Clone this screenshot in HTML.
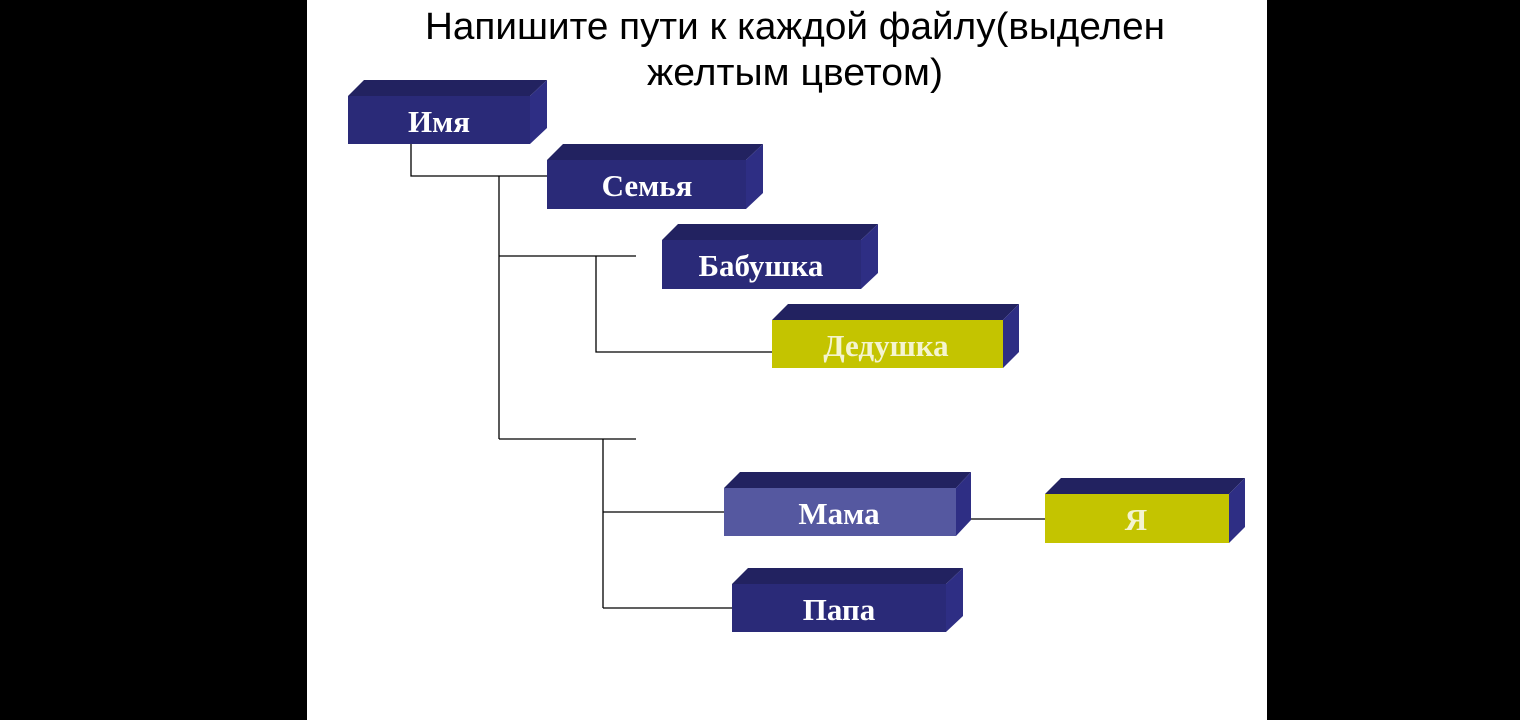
<!DOCTYPE html>
<html><head><meta charset="utf-8"><style>html,body{margin:0;padding:0;background:#000}svg{display:block}</style></head>
<body>
<svg width="1520" height="720" xmlns="http://www.w3.org/2000/svg">
<rect x="0" y="0" width="1520" height="720" fill="#000"/>
<rect x="307" y="0" width="960" height="720" fill="#fff"/>
<g font-family="Liberation Sans, Arial, sans-serif" font-size="38" fill="#000" text-anchor="middle">
<text x="795" y="39" textLength="740" lengthAdjust="spacingAndGlyphs">Напишите пути к каждой файлу(выделен</text>
<text x="795" y="85" textLength="296" lengthAdjust="spacingAndGlyphs">желтым цветом)</text>
</g>
<g stroke="#000" stroke-width="1.3" fill="none">
<path d="M411 144V176H547"/>
<path d="M499 176V439"/>
<path d="M499 256H636"/>
<path d="M596 256V352H772"/>
<path d="M499 439H636"/>
<path d="M603 439V608"/>
<path d="M603 512H724"/>
<path d="M603 608H732"/>
<path d="M956 519H1045"/>
</g>
<g font-family="Liberation Serif, Times New Roman, serif" font-weight="bold" font-size="31" text-anchor="middle">
<polygon points="348,96 364,80 547,80 530,96" fill="#222260"/>
<polygon points="530,96 547,80 547,128 530,144" fill="#2e2e84"/>
<rect x="348" y="96" width="182" height="48" fill="#2a2a78"/>
<text x="439" y="132" fill="#fff">Имя</text>
<polygon points="547,160 563,144 763,144 746,160" fill="#222260"/>
<polygon points="746,160 763,144 763,193 746,209" fill="#2e2e84"/>
<rect x="547" y="160" width="199" height="49" fill="#2a2a78"/>
<text x="647" y="196" fill="#fff">Семья</text>
<polygon points="662,240 678,224 878,224 861,240" fill="#222260"/>
<polygon points="861,240 878,224 878,273 861,289" fill="#2e2e84"/>
<rect x="662" y="240" width="199" height="49" fill="#2a2a78"/>
<text x="761" y="276" fill="#fff">Бабушка</text>
<polygon points="772,320 788,304 1019,304 1003,320" fill="#222260"/>
<polygon points="1003,320 1019,304 1019,352 1003,368" fill="#2e2e84"/>
<rect x="772" y="320" width="231" height="48" fill="#c4c400"/>
<text x="886" y="356" fill="#f4f4d0">Дедушка</text>
<polygon points="724,488 740,472 971,472 956,488" fill="#222260"/>
<polygon points="956,488 971,472 971,520 956,536" fill="#2e2e84"/>
<rect x="724" y="488" width="232" height="48" fill="#5558a0"/>
<text x="839" y="524" fill="#fff">Мама</text>
<polygon points="1045,494 1061,478 1245,478 1229,494" fill="#222260"/>
<polygon points="1229,494 1245,478 1245,527 1229,543" fill="#2e2e84"/>
<rect x="1045" y="494" width="184" height="49" fill="#c4c400"/>
<text x="1136" y="530" fill="#f4f4d0">Я</text>
<polygon points="732,584 748,568 963,568 946,584" fill="#222260"/>
<polygon points="946,584 963,568 963,616 946,632" fill="#2e2e84"/>
<rect x="732" y="584" width="214" height="48" fill="#2a2a78"/>
<text x="839" y="620" fill="#fff">Папа</text>
</g>
</svg>
</body></html>
